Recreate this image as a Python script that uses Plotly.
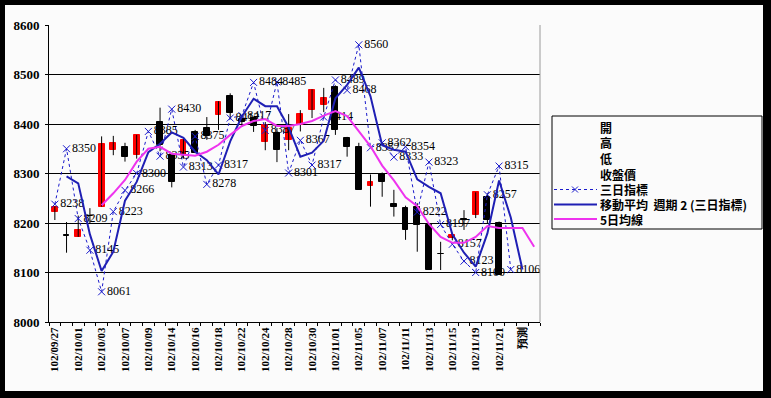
import plotly.graph_objects as go

# ---------------- data ----------------
dates = ["102/09/27", "102/09/30", "102/10/01", "102/10/02", "102/10/03", "102/10/04",
         "102/10/07", "102/10/08", "102/10/09", "102/10/11", "102/10/14", "102/10/15",
         "102/10/16", "102/10/17", "102/10/18", "102/10/21", "102/10/22", "102/10/23",
         "102/10/24", "102/10/25", "102/10/28", "102/10/29", "102/10/30", "102/10/31",
         "102/11/01", "102/11/04", "102/11/05", "102/11/06", "102/11/07", "102/11/08",
         "102/11/11", "102/11/12", "102/11/13", "102/11/14", "102/11/15", "102/11/18",
         "102/11/19", "102/11/20", "102/11/21", "102/11/22", "預測", ""]

open_ = [8222, 8175, 8172, 8215, 8233, 8347, 8354, 8338, None, 8405, 8337, 8337,
         8384, 8392, 8418, 8456, 8410, 8412, 8364, 8382, 8368, 8398, 8428, 8438,
         8475, 8372, 8354, 8275, 8300, 8238, 8230, 8233, 8196, 8138, 8170, 8208,
         8216, 8252, 8200, None, None, None]
high = [8234, 8202, 8215, 8230, 8375, 8376, 8362, 8378, None, 8433, 8340, 8370,
        8388, 8414, 8446, 8462, 8418, 8414, 8404, 8392, 8420, 8428, 8470, 8473,
        8478, 8374, 8362, 8298, 8302, 8267, 8235, 8240, 8200, 8162, 8180, 8226,
        8262, 8260, 8203, None, None, None]
low = [8206, 8140, 8172, 8200, 8233, 8337, 8324, 8330, None, 8345, 8272, 8330,
       8341, 8368, 8388, 8410, 8394, 8384, 8347, 8323, 8347, 8385, 8412, 8424,
       8378, 8334, 8267, 8233, 8253, 8213, 8166, 8142, 8105, 8105, 8165, 8186,
       8210, 8200, 8095, None, None, None]
close = [8233, 8174, 8186, 8214, 8360, 8362, 8334, 8377, None, 8358, 8283, 8368,
         8341, 8375, 8444, 8422, 8405, 8395, 8398, 8347, 8392, 8420, 8468, 8452,
         8388, 8354, 8267, 8282, 8283, 8233, 8186, 8196, 8105, 8137, 8176, 8207,
         8262, 8206, 8095, None, None, None]

three_day = [8238, 8350, 8209, 8145, 8061, 8223, 8266, 8300, 8385, 8335, 8430, 8313,
             8375, 8278, 8317, 8412, 8417, 8484, 8387, 8485, 8301, 8367, 8317, 8414,
             8489, 8468, 8560, 8352, 8362, 8333, 8354, 8222, 8323, 8197, 8157, 8123,
             8100, 8257, 8315, 8106, None, None]

ma2 = [None, 8294, 8280, 8177, 8103, 8142, 8245, 8283, 8343, 8360, 8383, 8372,
       8344, 8327, 8298, 8365, 8415, 8451, 8436, 8436, 8393, 8334, 8342, 8366,
       8452, 8479, 8514, 8456, 8357, 8348, 8344, 8288, 8273, 8260, 8177, 8140,
       8112, 8179, 8286, 8211, 8106, None]

ma5 = [None, None, None, None, 8236, 8260, 8287, 8324, 8350, 8354, 8340, 8338,
       8336, 8344, 8358, 8378, 8396, 8406, 8410, 8396, 8396, 8400, 8406, 8417,
       8426, 8416, 8386, 8355, 8316, 8286, 8252, 8234, 8198, 8172, 8160, 8160,
       8172, 8194, 8190, 8190, 8190, 8152]

y_ticks = [8000, 8100, 8200, 8300, 8400, 8500, 8600]
legend_names = ["開", "高", "低", "收盤價", "三日指標", "移動平均  週期 2 (三日指標)", "5日均線"]

# ---------------- figure ----------------
idx = list(range(len(dates)))
L, R, T, B = 49, 540, 25, 322
W, H = 771, 398

def px(xp):
    return (xp - L) / (R - L)

def py(yp):
    return (B - yp) / (B - T)

fig = go.Figure()

# high-low wicks
wx, wy = [], []
for i in idx:
    if high[i] is not None:
        wx += [i, i, None]
        wy += [low[i], high[i], None]
fig.add_trace(go.Scatter(x=wx, y=wy, mode="lines", line=dict(color="black", width=1),
                         hoverinfo="skip", showlegend=False))

# candle bodies
bx, bbase, bh, bcol = [], [], [], []
for i in idx:
    if open_[i] is None:
        continue
    o, c = open_[i], close[i]
    bx.append(i)
    bbase.append(min(o, c))
    bh.append(max(abs(c - o), 1))
    bcol.append("#ff0000" if c > o else "#000000")
fig.add_trace(go.Bar(x=bx, y=bh, base=bbase, width=0.5,
                     marker=dict(color=bcol, line=dict(color=bcol, width=1)),
                     showlegend=False))

# 3-day indicator
fig.add_trace(go.Scatter(
    x=idx, y=three_day, mode="lines+markers+text",
    line=dict(color="#1a1acc", width=1, dash="dot"),
    marker=dict(symbol="x-thin-open", size=7, color="#1a1acc",
                line=dict(color="#1a1acc", width=1)),
    text=[str(v) if v is not None else "" for v in three_day],
    textposition="middle right",
    textfont=dict(family="Liberation Serif", size=12, color="black"),
    showlegend=False))

# moving average period 2
fig.add_trace(go.Scatter(x=idx, y=ma2, mode="lines",
                         line=dict(color="#1f1fb4", width=2), showlegend=False))

# 5-day MA
fig.add_trace(go.Scatter(x=idx, y=ma5, mode="lines",
                         line=dict(color="#ee33ee", width=2), showlegend=False))

shapes = []
# inner light background (frame is black paper)
shapes.append(dict(type="rect", xref="paper", yref="paper", layer="below",
                   x0=px(5), x1=px(763), y0=py(391), y1=py(5),
                   fillcolor="#fbfbfb", line=dict(width=0)))
# right border of plot area
shapes.append(dict(type="line", xref="paper", yref="paper",
                   x0=1, x1=1, y0=0, y1=1, line=dict(color="#9a9a9a", width=1)))
# legend box
shapes.append(dict(type="rect", xref="paper", yref="paper",
                   x0=px(552), x1=px(762), y0=py(229), y1=py(116),
                   fillcolor="#fbfbfb", line=dict(color="black", width=1)))

rows = [127, 142.5, 158, 174, 189.5, 204.5, 219]
annotations = []
for name, ry in zip(legend_names, rows):
    annotations.append(dict(xref="paper", yref="paper", x=px(599), y=py(ry),
                            text=name, showarrow=False, xanchor="left", yanchor="middle",
                            borderpad=0,
                            font=dict(family="Noto Sans CJK TC", size=12, color="black",
                                      weight="bold")))
# legend symbols
shapes.append(dict(type="line", xref="paper", yref="paper", x0=px(554), x1=px(597),
                   y0=py(rows[4]), y1=py(rows[4]), line=dict(color="#1a1acc", width=1, dash="dot")))
for dx in (-3, 3):
    shapes.append(dict(type="line", xref="paper", yref="paper", x0=px(575 - 3), x1=px(575 + 3),
                       y0=py(rows[4] - dx), y1=py(rows[4] + dx), line=dict(color="#1a1acc", width=1)))
shapes.append(dict(type="line", xref="paper", yref="paper", x0=px(554), x1=px(597),
                   y0=py(rows[5]), y1=py(rows[5]), line=dict(color="#1f1fb4", width=2)))
shapes.append(dict(type="line", xref="paper", yref="paper", x0=px(554), x1=px(597),
                   y0=py(rows[6]), y1=py(rows[6]), line=dict(color="#ee33ee", width=2)))

fig.update_layout(
    width=W, height=H,
    margin=dict(l=L, r=W - R, t=T, b=H - B, autoexpand=False),
    paper_bgcolor="black", plot_bgcolor="#fbfbfb",
    shapes=shapes, annotations=annotations,
    showlegend=False, bargap=0,
)
fig.update_xaxes(
    range=[-0.5, len(dates) - 0.5], automargin=False,
    tickmode="array", tickvals=idx[::2], ticktext=dates[::2],
    tickangle=-90, ticks="", showgrid=False,
    showline=True, linecolor="black", linewidth=1,
    tickfont=dict(family="Liberation Serif", size=11, color="black", weight="bold"),
    minor=dict(ticks="outside", tick0=-0.5, dtick=1, ticklen=3, tickcolor="black", showgrid=False),
    zeroline=False,
)
fig.update_yaxes(
    range=[8000, 8600], automargin=False, tickmode="array", tickvals=y_ticks,
    ticks="outside", ticklen=3, tickcolor="black", ticklabelstandoff=3,
    showgrid=True, gridcolor="black", gridwidth=1,
    showline=True, linecolor="black", linewidth=1,
    tickfont=dict(family="Liberation Serif", size=13, color="black", weight="bold"),
    zeroline=False,
)

fig.write_html("out.html", config={"displayModeBar": False},
               post_script="document.body.style.margin='0';document.body.style.background='black';")
